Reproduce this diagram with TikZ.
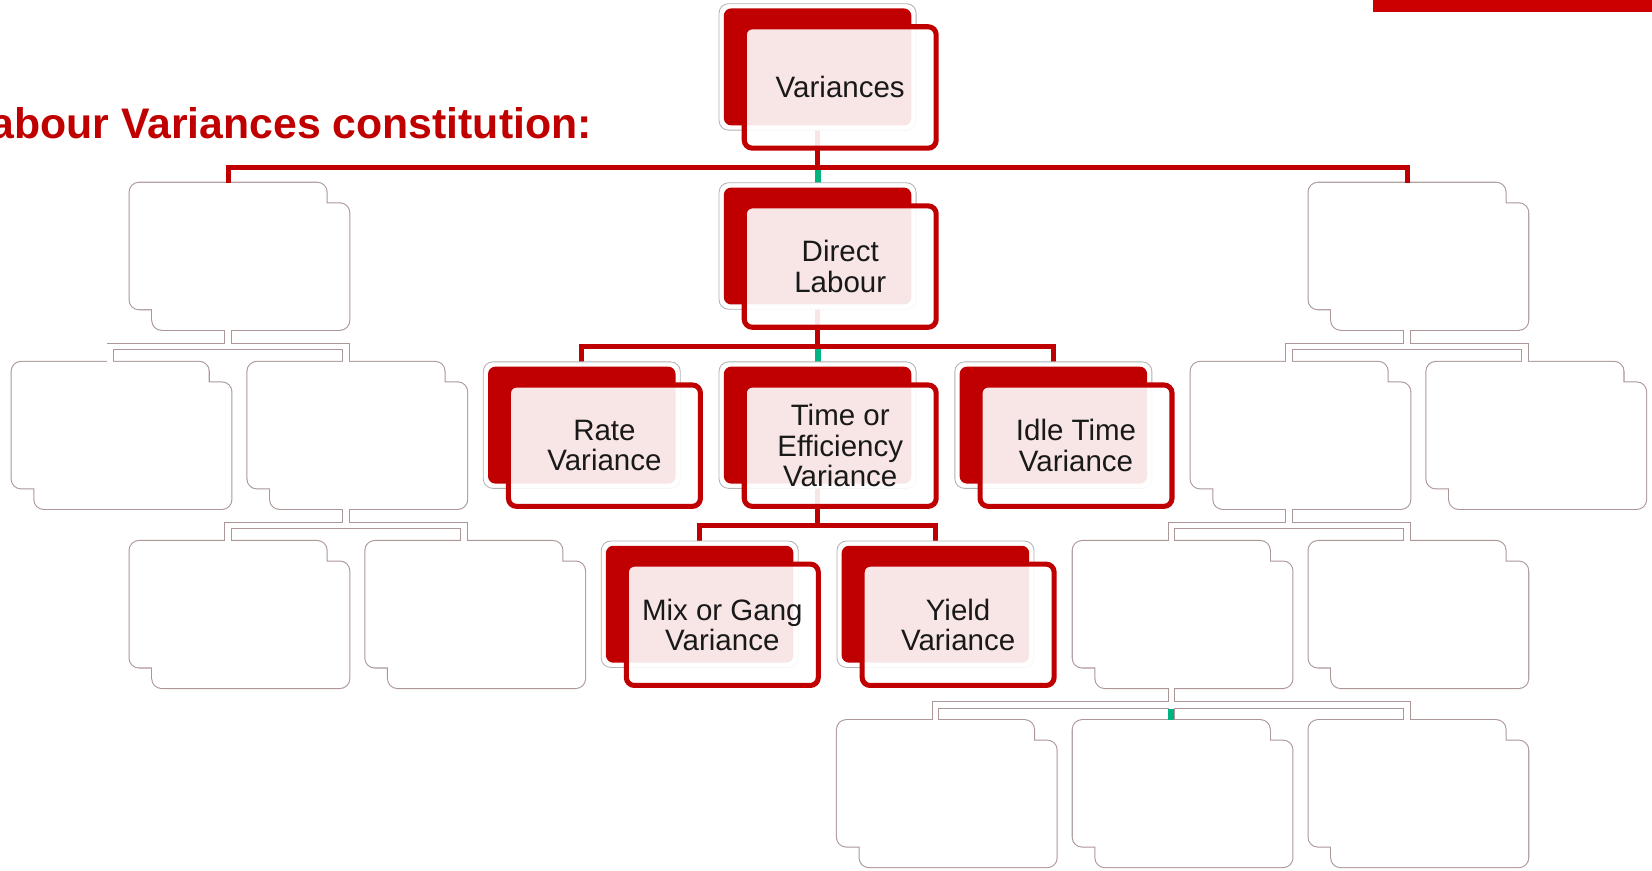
\documentclass[tikz,border=0pt]{standalone}
\usepackage{fontspec}
\setmainfont{Liberation Sans}
\usepackage{tikz}

\definecolor{boxred}{RGB}{192,0,0}
\definecolor{barred}{RGB}{204,0,0}
\definecolor{ghostgray}{RGB}{172,150,150}
\definecolor{linkgreen}{RGB}{0,180,130}

\begin{document}
\begin{tikzpicture}[x=0.5pt,y=-0.5pt,
  slot/.style={minimum width=93.5pt,minimum height=60pt,inner sep=0pt,outer sep=0pt},
  ghostedge/.style={draw=ghostgray,line width=1pt,rounded corners=4.5pt},
  ghostfill/.style={fill=white,rounded corners=4.5pt},
  ghostlink/.style={draw=ghostgray,line width=0.45pt,double=white,double distance=2.6pt},
  redlink/.style={draw=boxred,line width=2.4pt},
  greenlink/.style={draw=linkgreen,line width=2.8pt},
  halo/.style={fill=white,draw=black!30,line width=0.4pt,rounded corners=4.5pt},
  back/.style={fill=boxred,rounded corners=3.5pt},
  front/.style={fill=white,fill opacity=0.9,draw=boxred,line width=2.4pt,rounded corners=3.8pt},
  lbl/.style={align=center,font=\fontsize{14}{14.5}\selectfont,text=black!90},
  heading/.style={font=\fontsize{20.3}{24}\selectfont\bfseries,text=boxred,inner sep=0pt}]
  \useasboundingbox (0,0) rectangle (1568,826);
  \clip (0,0) rectangle (1568,826);

  \fill[barred] (1303,0) rectangle (1568,11);
  \node[heading,anchor=base east] (head) at (562,131) {Labour Variances constitution:};

  \node[slot] (Var) at (776,63.5) {};
  \node[slot] (L1) at (216.5,233.5) {};
  \node[slot] (Dir) at (776,233.5) {};
  \node[slot] (R1) at (1335.5,233.5) {};
  \node[slot] (L2a) at (104.6,403.5) {};
  \node[slot] (L2b) at (328.4,403.5) {};
  \node[slot] (Rate) at (552.2,403.5) {};
  \node[slot] (Time) at (776,403.5) {};
  \node[slot] (Idle) at (999.8,403.5) {};
  \node[slot] (R2a) at (1223.6,403.5) {};
  \node[slot] (R2b) at (1447.4,403.5) {};
  \node[slot] (L3a) at (216.5,573.5) {};
  \node[slot] (L3b) at (440.3,573.5) {};
  \node[slot] (Mix) at (664.1,573.5) {};
  \node[slot] (Yield) at (887.9,573.5) {};
  \node[slot] (R3a) at (1111.7,573.5) {};
  \node[slot] (R3b) at (1335.5,573.5) {};
  \node[slot] (B4a) at (887.9,743.5) {};
  \node[slot] (B4b) at (1111.7,743.5) {};
  \node[slot] (B4c) at (1335.5,743.5) {};

  \foreach \g in {L1,R1,L2a,L2b,R2a,R2b,L3a,L3b,R3a,R3b,B4a,B4b,B4c}
    \draw[ghostedge] (\g.north west) rectangle (\g.south east)
      ([shift={(10.75pt,-9.75pt)}]\g.north west) rectangle ([shift={(10.75pt,-9.75pt)}]\g.south east);

  \draw[ghostlink] (L1.center) -- ++(0,95.5) -| ([yshift=-1.5pt]L2a.north)
    (L1.center) -- ++(0,95.5) -| ([yshift=-1.5pt]L2b.north);
  \draw[ghostlink] (L2b.center) -- ++(0,95.5) -| ([yshift=-1.5pt]L3a.north)
    (L2b.center) -- ++(0,95.5) -| ([yshift=-1.5pt]L3b.north);
  \draw[ghostlink] (R1.center) -- ++(0,95.5) -| ([yshift=-1.5pt]R2a.north)
    (R1.center) -- ++(0,95.5) -| ([yshift=-1.5pt]R2b.north);
  \draw[ghostlink] (R2a.center) -- ++(0,95.5) -| ([yshift=-1.5pt]R3a.north)
    (R2a.center) -- ++(0,95.5) -| ([yshift=-1.5pt]R3b.north);
  \draw[ghostlink] (R3a.center) -- ++(0,95.5) -| ([yshift=-1.5pt]B4a.north)
    (R3a.center) -- ++(0,95.5) -| ([yshift=-1.5pt]B4c.north)
    (R3a.center) -- ([yshift=-1.5pt]B4b.north);

  \foreach \g in {L1,R1,L2a,L2b,R2a,R2b,L3a,L3b,R3a,R3b,B4a,B4b,B4c}
    \fill[ghostfill] (\g.north west) rectangle (\g.south east)
      ([shift={(10.75pt,-9.75pt)}]\g.north west) rectangle ([shift={(10.75pt,-9.75pt)}]\g.south east);

  \draw[redlink] (Var.center) -- ++(0,95.5) -| (L1.north)
    (Var.center) -- ++(0,95.5) -| (R1.north)
    (Var.center) -- (Dir.north)
    (Dir.center) -- ++(0,95.5) -| (Rate.north)
    (Dir.center) -- ++(0,95.5) -| (Idle.north)
    (Dir.center) -- (Time.north)
    (Time.center) -- ++(0,95.5) -| (Mix.north)
    (Time.center) -- ++(0,95.5) -| (Yield.north);
  \draw[greenlink] (Dir.north) -- ++(0,-12) (Time.north) -- ++(0,-12) (B4b.north) -- ++(0,-11);

  \foreach \b in {Var,Dir,Rate,Time,Idle,Mix,Yield} {
    \draw[halo] (\b.north west) rectangle (\b.south east);
    \fill[back] ([shift={(2.25pt,-2.25pt)}]\b.north west) rectangle ([shift={(-2.25pt,2.25pt)}]\b.south east);
    \draw[front] ([shift={(11.95pt,-10.95pt)}]\b.north west) rectangle ([shift={(9.55pt,-8.55pt)}]\b.south east);
  }

  \node[lbl] (VarT) at ([shift={(10.75pt,-9.75pt)}]Var.center) {Variances};
  \node[lbl] (DirT) at ([shift={(10.75pt,-9.75pt)}]Dir.center) {Direct\\Labour};
  \node[lbl] (RateT) at ([shift={(10.75pt,-9.75pt)}]Rate.center) {Rate\\Variance};
  \node[lbl] (TimeT) at ([shift={(10.75pt,-9.75pt)}]Time.center) {Time or\\Efficiency\\Variance};
  \node[lbl] (IdleT) at ([shift={(10.75pt,-9.75pt)}]Idle.center) {Idle Time\\Variance};
  \node[lbl] (MixT) at ([shift={(10.75pt,-9.75pt)}]Mix.center) {Mix or Gang\\Variance};
  \node[lbl] (YieldT) at ([shift={(10.75pt,-9.75pt)}]Yield.center) {Yield\\Variance};
\end{tikzpicture}
\end{document}
